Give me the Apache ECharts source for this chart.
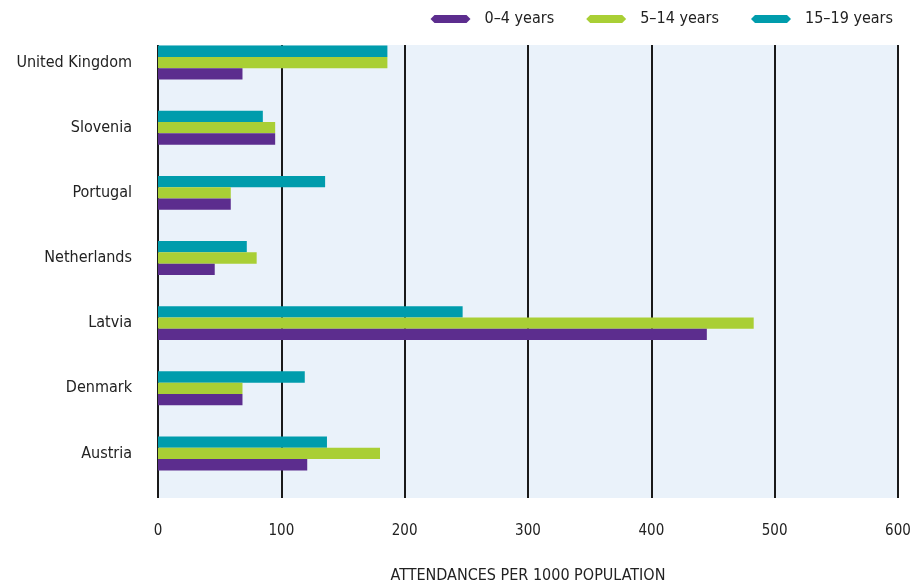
<!DOCTYPE html>
<html><head><meta charset="utf-8">
<script src="https://cdn.jsdelivr.net/npm/echarts@6/dist/echarts.min.js"></script>
<style>html,body{margin:0;padding:0;background:#fff}#c{width:913px;height:587px}</style>
</head><body><div id="c"></div>
<script>
const categories = ['Austria','Denmark','Latvia','Netherlands','Portugal','Slovenia','United Kingdom'];
const seriesNames = ['0–4 years','5–14 years','15–19 years'];
const age0to4 = [121, 68.5, 445, 46, 59, 95, 68.5];
const age5to14 = [180, 68.5, 483, 80, 59, 95, 186];
const age15to19 = [137, 119, 247, 72, 135.5, 85, 186];
const xTicks = [0, 100, 200, 300, 400, 500, 600];
const colors = ['#5c2d8e', '#a9cf35', '#009cac'];
const FONT = '"Liberation Sans Narrow","DejaVu Sans Condensed","Roboto",sans-serif';

const chart = echarts.init(document.getElementById('c'), null, {renderer:'canvas'});
const values = [age0to4, age5to14, age15to19];
// ECharts places the first series at the top of each horizontal band, so add them in reverse
const order = [2, 1, 0];
const xMin = xTicks[0], xMax = xTicks[xTicks.length-1];
chart.setOption({
  animation:false,
  legend:{
    right: 15, top: 6, itemWidth: 40, itemHeight: 8, itemGap: 32,
    icon: 'path://M4,0 L36,0 L40,4 L36,8 L4,8 L0,4 Z',
    textStyle:{fontFamily:FONT, fontSize:16, color:'#222', padding:[0,0,0,9]},
    data: seriesNames
  },
  grid:[
    {left:158, right:15, top:45, bottom:89, show:true, backgroundColor:'#eaf2fa', borderWidth:0, outerBoundsMode:'none'},
    {left:158, right:15, top:30, bottom:101, show:false, outerBoundsMode:'none'}
  ],
  xAxis:[{
    gridIndex:0, type:'value', min:xMin, max:xMax, interval:100,
    name:'ATTENDANCES PER 1000 POPULATION', nameLocation:'middle', nameGap:70,
    nameTextStyle:{fontFamily:FONT, fontSize:16, color:'#222'},
    axisLine:{show:false}, axisTick:{show:false},
    axisLabel:{fontFamily:FONT, fontSize:15, color:'#222', margin:26},
    splitLine:{show:true, lineStyle:{color:'#1a1a1a', width:2}}
  },{
    gridIndex:1, type:'value', min:xMin, max:xMax, interval:100,
    axisLine:{show:false}, axisTick:{show:false}, axisLabel:{show:false}, splitLine:{show:false}
  }],
  yAxis:[{
    gridIndex:0, type:'value', show:false
  },{
    gridIndex:1, type:'category', data:categories,
    axisLine:{show:false}, axisTick:{show:false},
    axisLabel:{fontFamily:FONT, fontSize:16, color:'#222', margin:26}
  }],
  series: order.map(i=>({
    name:seriesNames[i], type:'bar', xAxisIndex:1, yAxisIndex:1,
    data:values[i], barWidth:11.3, barGap:'0%',
    itemStyle:{color:colors[i]}
  }))
});
</script></body></html>
